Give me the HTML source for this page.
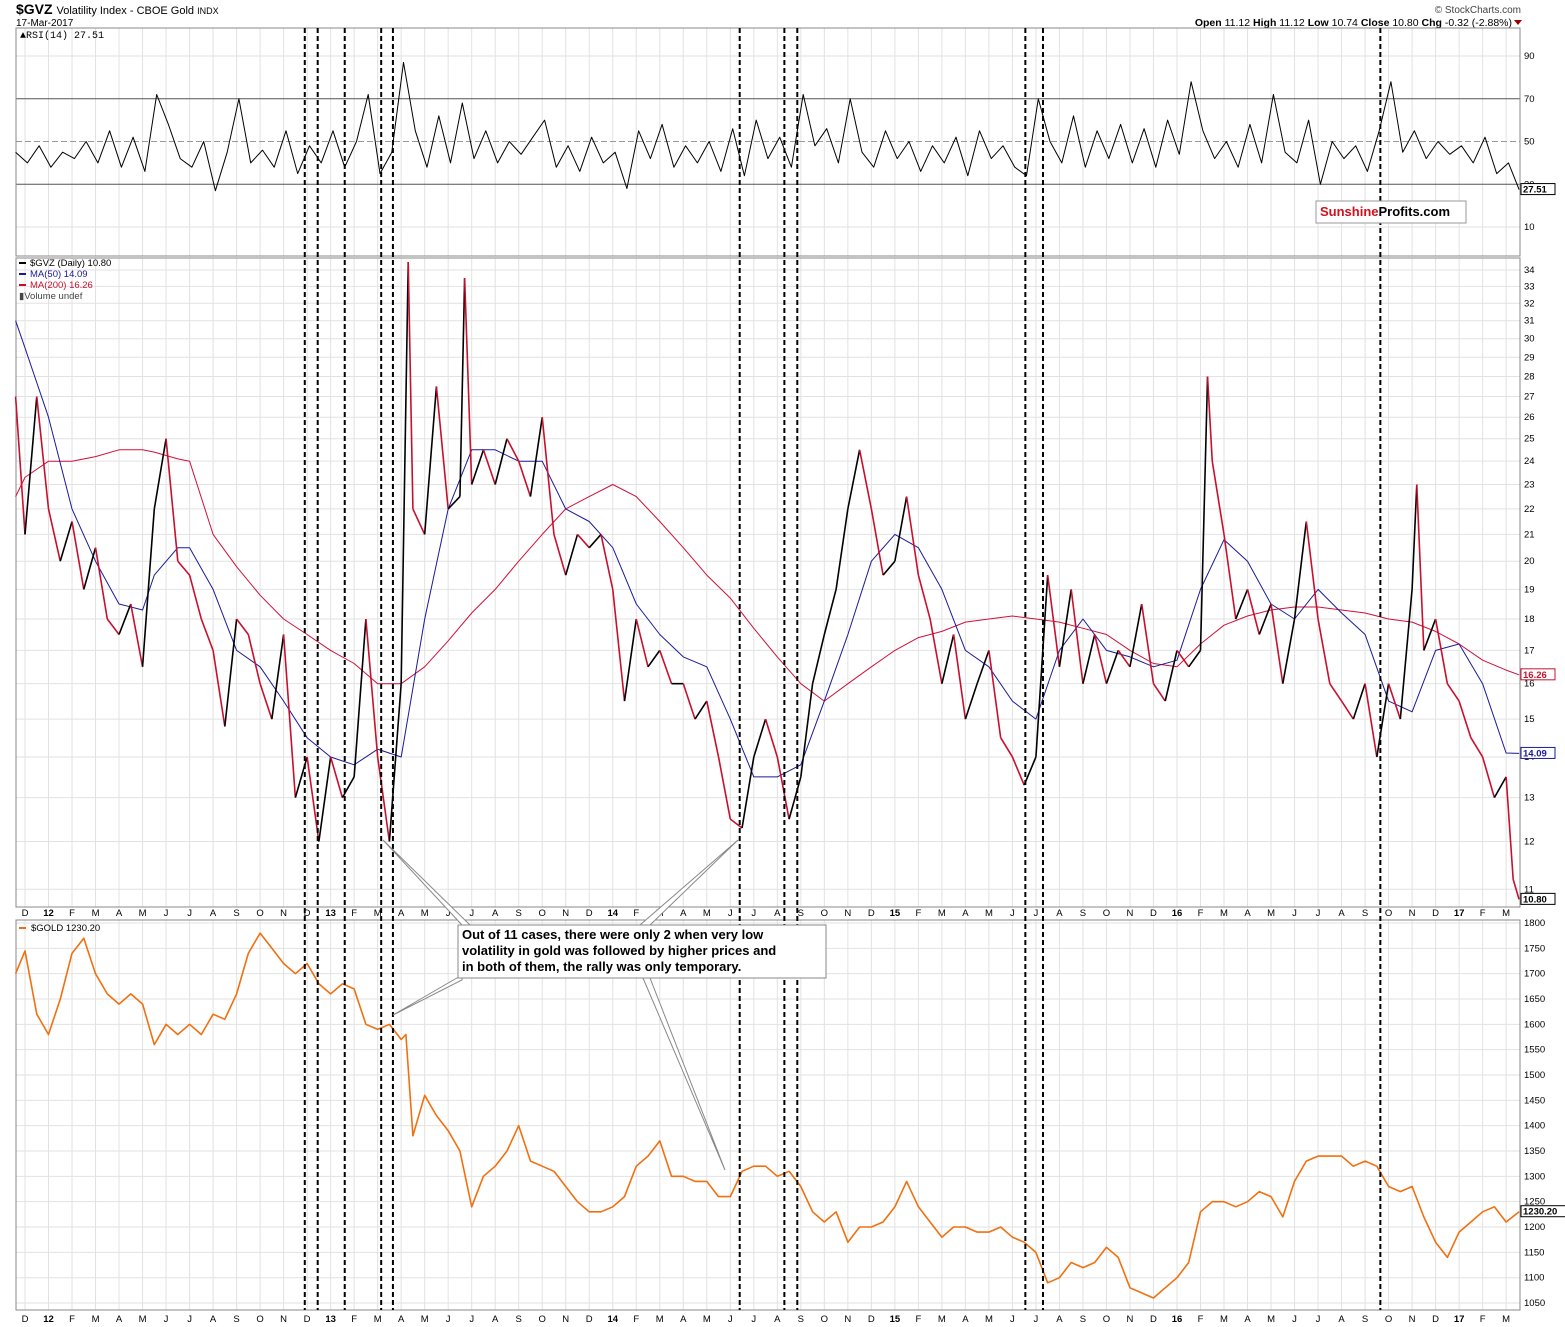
<!DOCTYPE html>
<html><head><meta charset="utf-8">
<style>
html,body{margin:0;padding:0;background:#fff;}
svg{display:block;font-family:"Liberation Sans",Arial,sans-serif;}
</style></head>
<body>
<svg id="c" width="1565" height="1327" viewBox="0 0 1565 1327" xmlns="http://www.w3.org/2000/svg">
<text x="16" y="14" font-size="14" font-weight="bold">$GVZ <tspan font-size="11" font-weight="normal">Volatility Index - CBOE Gold </tspan><tspan font-size="9" font-weight="normal">INDX</tspan></text>
<text x="16" y="26" font-size="10">17-Mar-2017</text>
<text x="1521" y="13" font-size="10" fill="#444" text-anchor="end">© StockCharts.com</text>
<text x="1512" y="26" font-size="10.5" text-anchor="end"><tspan font-weight="bold">Open</tspan> 11.12 <tspan font-weight="bold">High</tspan> 11.12 <tspan font-weight="bold">Low</tspan> 10.74 <tspan font-weight="bold">Close</tspan> 10.80 <tspan font-weight="bold">Chg</tspan> -0.32 (-2.88%)</text>
<path d="M1514,20 L1522,20 L1518,25 Z" fill="#900"/>
<g id="grid"></g>
<g id="panels"></g>
<g id="series"></g>
<g id="vlines"></g>
<g id="labels"></g>
<g id="overlay"></g>
</svg>
<script>
// ---- data (months since 1-Dec-2011) ----
const monthLabels=["D","12","F","M","A","M","J","J","A","S","O","N","D","13","F","M","A","M","J","J","A","S","O","N","D","14","F","M","A","M","J","J","A","S","O","N","D","15","F","M","A","M","J","J","A","S","O","N","D","16","F","M","A","M","J","J","A","S","O","N","D","17","F","M"];
const gvzDates=[-0.4,0,0.5,1,1.5,2,2.5,3,3.5,4,4.5,5,5.5,6,6.5,7,7.5,8,8.5,9,9.5,10,10.5,11,11.5,12,12.5,13,13.5,14,14.5,15,15.5,16,16.3,16.5,17,17.5,18,18.5,18.7,19,19.5,20,20.5,21,21.5,22,22.5,23,23.5,24,24.5,25,25.5,26,26.5,27,27.5,28,28.5,29,29.5,30,30.5,31,31.5,32,32.5,33,33.5,34,34.5,35,35.5,36,36.5,37,37.5,38,38.5,39,39.5,40,40.5,41,41.5,42,42.5,43,43.5,44,44.5,45,45.5,46,46.5,47,47.5,48,48.5,49,49.5,50,50.3,50.5,51,51.5,52,52.5,53,53.5,54,54.5,55,55.5,56,56.5,57,57.5,58,58.5,59,59.2,59.5,60,60.5,61,61.5,62,62.5,63,63.3,63.55];
const gvzValues=[27,21,27,22,20,21.5,19,20.5,18,17.5,18.5,16.5,22,25,20,19.5,18,17,14.8,18,17.5,16,15,17.5,13,14,12,14,13,13.5,18,14,12,16,34.5,22,21,27.5,22,22.5,33.5,23,24.5,23,25,24,22.5,26,21,19.5,21,20.5,21,19,15.5,18,16.5,17,16,16,15,15.5,14,12.5,12.3,14,15,14,12.5,13.5,16,17.5,19,22,24.5,22,19.5,20,22.5,19.5,18,16,17.5,15,16,17,14.5,14,13.3,14,19.5,16.5,19,16,17.5,16,17,16.5,18.5,16,15.5,17,16.5,17,28,24,21,18,19,17.5,18.5,16,18,21.5,18,16,15.5,15,16,14,16,15,19,23,17,18,16,15.5,14.5,14,13,13.5,11.2,10.8];
const maDates=[-0.4,0,1,2,3,4,5,5.5,6.5,7,8,9,10,11,12,13,14,15,16,17,18,19,20,21,22,23,24,25,26,27,28,29,30,31,32,33,34,35,36,37,38,39,40,41,42,43,44,45,46,47,48,49,50,51,52,53,54,55,56,57,58,59,60,61,62,63,63.55];
const ma50Values=[31,29.5,26,22,20,18.5,18.3,19.5,20.5,20.5,19,17,16.5,15.5,14.5,14,13.8,14.2,14,18,22,24.5,24.5,24,24,22,21.5,20.5,18.5,17.5,16.8,16.5,15,13.5,13.5,13.8,15.5,17.5,20,21,20.5,19,17,16.5,15.5,15,17,18,17,16.8,16.5,16.7,19,20.8,20,18.5,18,19,18.2,17.5,15.5,15.2,17,17.2,16,14.1,14.09];
const ma200Values=[22.5,23.3,24,24,24.2,24.5,24.5,24.4,24.1,24,21,19.8,18.8,18,17.5,17,16.6,16,16,16.5,17.3,18.2,19,20,21,22,22.5,23,22.5,21.5,20.5,19.5,18.7,17.7,16.8,16,15.5,16,16.5,17,17.4,17.6,17.9,18,18.1,18,17.9,17.7,17.5,17,16.6,16.5,17.2,17.8,18.1,18.3,18.4,18.4,18.3,18.2,18,17.9,17.6,17.2,16.7,16.4,16.26];
const goldDates=[-0.4,0,0.5,1,1.5,2,2.5,3,3.5,4,4.5,5,5.5,6,6.5,7,7.5,8,8.5,9,9.5,10,10.5,11,11.5,12,12.5,13,13.5,14,14.5,15,15.5,16,16.2,16.5,17,17.5,18,18.5,19,19.5,20,20.5,21,21.5,22,22.5,23,23.5,24,24.5,25,25.5,26,26.5,27,27.5,28,28.5,29,29.5,30,30.5,31,31.5,32,32.5,33,33.5,34,34.5,35,35.5,36,36.5,37,37.5,38,38.5,39,39.5,40,40.5,41,41.5,42,42.5,43,43.5,44,44.5,45,45.5,46,46.5,47,47.5,48,48.5,49,49.5,50,50.5,51,51.5,52,52.5,53,53.5,54,54.5,55,55.5,56,56.5,57,57.5,58,58.5,59,59.5,60,60.5,61,61.5,62,62.5,63,63.55];
const goldValues=[1700,1745,1620,1580,1650,1740,1770,1700,1660,1640,1660,1640,1560,1600,1580,1600,1580,1620,1610,1660,1740,1780,1750,1720,1700,1720,1680,1660,1680,1670,1600,1590,1600,1570,1580,1380,1460,1420,1390,1350,1240,1300,1320,1350,1400,1330,1320,1310,1280,1250,1230,1230,1240,1260,1320,1340,1370,1300,1300,1290,1290,1260,1260,1310,1320,1320,1300,1310,1280,1230,1210,1230,1170,1200,1200,1210,1240,1290,1240,1210,1180,1200,1200,1190,1190,1200,1180,1170,1150,1090,1100,1130,1120,1130,1160,1140,1080,1070,1060,1080,1100,1130,1230,1250,1250,1240,1250,1270,1260,1220,1290,1330,1340,1340,1340,1320,1330,1320,1280,1270,1280,1220,1170,1140,1190,1210,1230,1240,1210,1230];
const rsiStart=-0.4, rsiStep=0.5;
const rsiValues=[45,40,48,38,45,42,50,40,55,38,52,36,72,58,42,38,50,27,45,70,40,46,38,55,35,48,40,55,38,50,72,35,45,87,55,38,62,40,68,42,55,40,50,44,52,60,38,48,36,52,40,45,28,55,42,58,38,48,40,50,36,56,34,60,42,52,38,72,48,56,40,70,45,38,55,42,50,36,48,40,52,34,55,42,48,38,34,70,50,40,62,38,55,42,58,40,56,38,60,44,78,55,42,50,38,58,40,72,45,40,60,30,50,42,48,36,55,78,45,55,42,50,44,48,40,52,35,40,27.5];
const eventDates=[11.9,12.45,13.6,15.15,15.65,30.4,32.3,32.85,42.55,43.3,57.65];

// ---- axes ----
const L=16,R=1520;
const X=m=>25+m*23.51;
const yRsi=v=>56+(90-v)*2.1375;
const yGvz=v=>270+(Math.log(34)-Math.log(v))*548.8;
const yGold=v=>923+(1800-v)*0.5067;
const NS="http://www.w3.org/2000/svg";
function mk(tag,parent,attrs){const e=document.createElementNS(NS,tag);for(const k in attrs)e.setAttribute(k,attrs[k]);document.getElementById(parent).appendChild(e);return e;}

const panels=[[28,256],[258,907],[920,1310]];
// grids
for(let i=0;i<monthLabels.length;i++){
  const x=X(i);
  for(const p of panels){
    const g=mk('line','grid',{x1:x,x2:x,y1:p[0],y2:p[1],stroke:'#e2e2e2','stroke-width':1});
    
    
  }
  const bold=/\d/.test(monthLabels[i]);
  for(const yy of [916,1322]){
    const t=mk('text','labels',{x:x,y:yy,'font-size':9.5,'text-anchor':'middle','font-weight':bold?'bold':'normal'});
    t.textContent=monthLabels[i];
    
    
  }
}
for(let v=11;v<=34;v++){
  const g=mk('line','grid',{x1:L,x2:R,y1:yGvz(v),y2:yGvz(v),stroke:'#e2e2e2'});
  
  
  const t=mk('text','labels',{x:R+4,y:yGvz(v)+3,'font-size':9.5});
  t.textContent=v;
  
  
}
for(let v=1050;v<=1800;v+=50){
  const g=mk('line','grid',{x1:L,x2:R,y1:yGold(v),y2:yGold(v),stroke:'#e2e2e2'});
  
  
  const t=mk('text','labels',{x:R+4,y:yGold(v)+3,'font-size':9.5});
  t.textContent=v;
  
  
}
for(const v of [10,30,50,70,90]){
  const st=(v==30||v==70)?{stroke:'#555'}:(v==50?{stroke:'#999','stroke-dasharray':'6,3'}:{stroke:'#e2e2e2'});
  const g=mk('line','grid',Object.assign({x1:L,x2:R,y1:yRsi(v),y2:yRsi(v)},st));
  
  
  const t=mk('text','labels',{x:R+4,y:yRsi(v)+3,'font-size':9.5});
  t.textContent=v;
  
  
}
for(const p of panels){
  const r=mk('rect','panels',{x:L,y:p[0],width:R-L,height:p[1]-p[0],fill:'none',stroke:'#888'});
  
  
}
// series
function poly(dates,vals,yf,color,w,name){
  const pts=dates.map((d,i)=>X(d).toFixed(1)+','+yf(vals[i]).toFixed(1)).join(' ');
  const p=mk('polyline','series',{points:pts,fill:'none',stroke:color,'stroke-width':w,'stroke-linejoin':'round'});
  
  
}
const rsiDates=rsiValues.map((_,i)=>Math.min(rsiStart+i*rsiStep,63.55));
poly(rsiDates,rsiValues,yRsi,'#000',1,'rsi-line');
poly(maDates,ma200Values,yGvz,'#d0103a',1,'ma200-line');
poly(maDates,ma50Values,yGvz,'#1a1a9a',1,'ma50-line');
for(let i=1;i<gvzDates.length;i++){
  const s=mk('line','series',{x1:X(gvzDates[i-1]),y1:yGvz(gvzValues[i-1]),x2:X(gvzDates[i]),y2:yGvz(gvzValues[i]),stroke:gvzValues[i]<gvzValues[i-1]?'#c8102e':'#000','stroke-width':1.6});
  
  
}
poly(goldDates,goldValues,yGold,'#f07010',1.6,'gold-price-line');
// event lines
for(const d of eventDates){
  const l=mk('line','vlines',{x1:X(d),x2:X(d),y1:28,y2:1310,stroke:'#000','stroke-width':2,'stroke-dasharray':'5,3'});
  
  
}
// last value tags
function tag(y,txt,color,name){
  const r=mk('rect','labels',{x:R+1,y:y-6,width:txt.length*6+4,height:11,fill:'#fff',stroke:color});
  
  
  const t=mk('text','labels',{x:R+3,y:y+3,'font-size':9.5,fill:color,'font-weight':'bold'});
  t.textContent=txt;
  
  
}
tag(yRsi(27.51),'27.51','#000','rsi-last-value');
tag(yGvz(16.26),'16.26','#c8102e','ma200-last-value');
tag(yGvz(14.09),'14.09','#1a1a9a','ma50-last-value');
tag(yGvz(10.8),'10.80','#000','gvz-last-value');
tag(yGold(1230.2),'1230.20','#000','gold-last-value');
</script>
<g></g>
<script>
const ov=document.getElementById('overlay');
ov.innerHTML=`
<text x="20" y="38" font-size="10" font-family="Liberation Mono,monospace">▲RSI(14) 27.51</text>
<g font-size="9.5">
<line x1="19" y1="263" x2="26" y2="263" stroke="#000" stroke-width="2"/><text x="30" y="266">$GVZ (Daily) 10.80</text>
<line x1="19" y1="274" x2="26" y2="274" stroke="#1a1a9a" stroke-width="2"/><text x="30" y="277" fill="#1a1a9a">MA(50) 14.09</text>
<line x1="19" y1="285" x2="26" y2="285" stroke="#c8102e" stroke-width="2"/><text x="30" y="288" fill="#c8102e">MA(200) 16.26</text>
<text x="19" y="299" fill="#444">▮Volume undef</text></g>
<g><line x1="19" y1="928" x2="26" y2="928" stroke="#f07010" stroke-width="2"/><text x="31" y="931" font-size="9.5">$GOLD 1230.20</text></g>
<g><rect x="1316" y="201" width="150" height="22" fill="#fff" stroke="#999"/><text x="1320" y="216" font-size="13" font-weight="bold"><tspan fill="#d0101a">Sunshine</tspan><tspan fill="#000">Profits.com</tspan></text></g>
<g fill="#fff" stroke="#888">
<polygon points="462,925 383,840 470,925"/><polygon points="462,975 393,1015 462,980"/>
<polygon points="640,925 738,840 650,925"/><polygon points="643,978 725,1170 650,978"/></g>
<g><rect x="458" y="925" width="368" height="53" fill="#fff" stroke="#888"/>
<text x="462" y="939" font-size="13" font-weight="bold">Out of 11 cases, there were only 2 when very low</text>
<text x="462" y="955" font-size="13" font-weight="bold">volatility in gold was followed by higher prices and</text>
<text x="462" y="971" font-size="13" font-weight="bold">in both of them, the rally was only temporary.</text></g>`;
</script>
</body></html>
